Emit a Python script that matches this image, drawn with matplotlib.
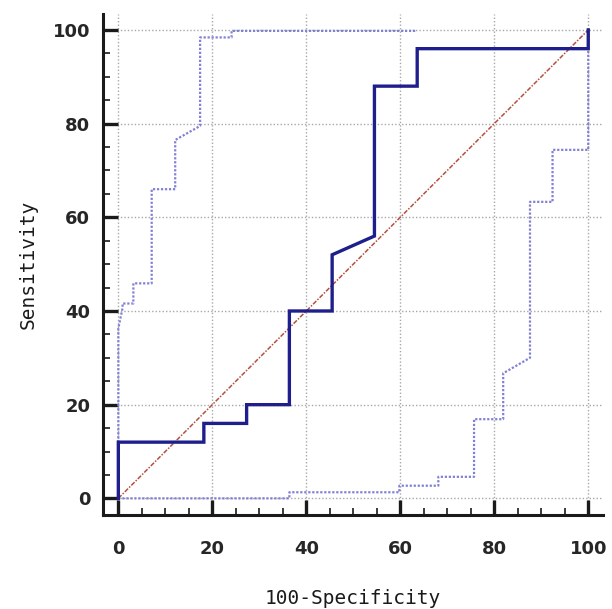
import matplotlib
matplotlib.use("Agg")
import matplotlib.pyplot as plt
from matplotlib.ticker import MultipleLocator

# ROC curve (100-Specificity vs Sensitivity)
roc_x = [0, 0, 18.2, 18.2, 27.3, 27.3, 36.4, 36.4, 45.5, 45.5, 54.5, 54.5, 63.6, 63.6, 100, 100]
roc_y = [0, 12, 12, 16, 16, 20, 20, 40, 40, 52, 56, 88, 88, 96, 96, 100]

# upper confidence bound
up_x = [0, 0, 0.9, 0.9, 3.2, 3.2, 7.1, 7.1, 12.1, 12.1, 17.4, 17.4, 24.1, 24.1, 63.3]
up_y = [0, 36.3, 40.6, 41.6, 41.6, 45.9, 45.9, 66.0, 66.0, 76.5, 79.5, 98.4, 98.4, 99.8, 99.8]

# lower confidence bound
lo_x = [0, 36.4, 36.4, 59.8, 59.8, 68.1, 68.1, 75.7, 75.7, 81.9, 81.9, 87.6, 87.6, 92.4, 92.4, 100, 100]
lo_y = [0, 0, 1.3, 1.3, 2.7, 2.7, 4.6, 4.6, 16.9, 16.9, 26.7, 30.0, 63.3, 63.3, 74.4, 74.4, 100]

diag = [0, 100]
ticks = [0, 20, 40, 60, 80, 100]

fig = plt.figure(figsize=(6.12, 6.09), dpi=100)
ax = fig.add_axes([0.168, 0.154, 0.817, 0.823])

ax.grid(True, which="major", linestyle=(0, (1, 1.5)), color="#a8a8a8", linewidth=1.0)
ax.set_axisbelow(True)

ax.plot(diag, diag, color="#b4503c", linestyle=(0, (3, 1, 1, 1)), linewidth=1.1, zorder=3)
ax.plot(up_x, up_y, color="#8080d4", linestyle=(0, (1, 0.8)), linewidth=1.6, zorder=3)
ax.plot(lo_x, lo_y, color="#8080d4", linestyle=(0, (1, 0.8)), linewidth=1.6, zorder=3)
ax.plot(roc_x, roc_y, color="#1e1e8c", linewidth=2.4, zorder=4, solid_joinstyle="miter")

ax.set_xlim(-3.3, 103.1)
ax.set_ylim(-3.6, 103.4)
ax.set_xticks(ticks)
ax.set_yticks(ticks)
ax.xaxis.set_minor_locator(MultipleLocator(5))
ax.yaxis.set_minor_locator(MultipleLocator(5))

for s in ["top", "right"]:
    ax.spines[s].set_visible(False)
for s in ["left", "bottom"]:
    ax.spines[s].set_linewidth(2.2)
    ax.spines[s].set_color("#1a1a1a")

ax.tick_params(which="major", direction="in", length=11, width=2.4, color="#1a1a1a",
               labelsize=13, pad=18)
ax.tick_params(which="minor", direction="in", length=5, width=1.2, color="#1a1a1a")
ax.tick_params(axis="y", which="major", pad=9)

for lab in ax.get_xticklabels() + ax.get_yticklabels():
    lab.set_family("DejaVu Sans")
    lab.set_weight("bold")
    lab.set_color("#262626")

ax.set_xlabel("100-Specificity", family="DejaVu Sans Mono", fontsize=14, labelpad=22, color="#1a1a1a")
ax.set_ylabel("Sensitivity", family="DejaVu Sans Mono", fontsize=14, labelpad=11, color="#1a1a1a")

fig.savefig("out.png", dpi=100)
